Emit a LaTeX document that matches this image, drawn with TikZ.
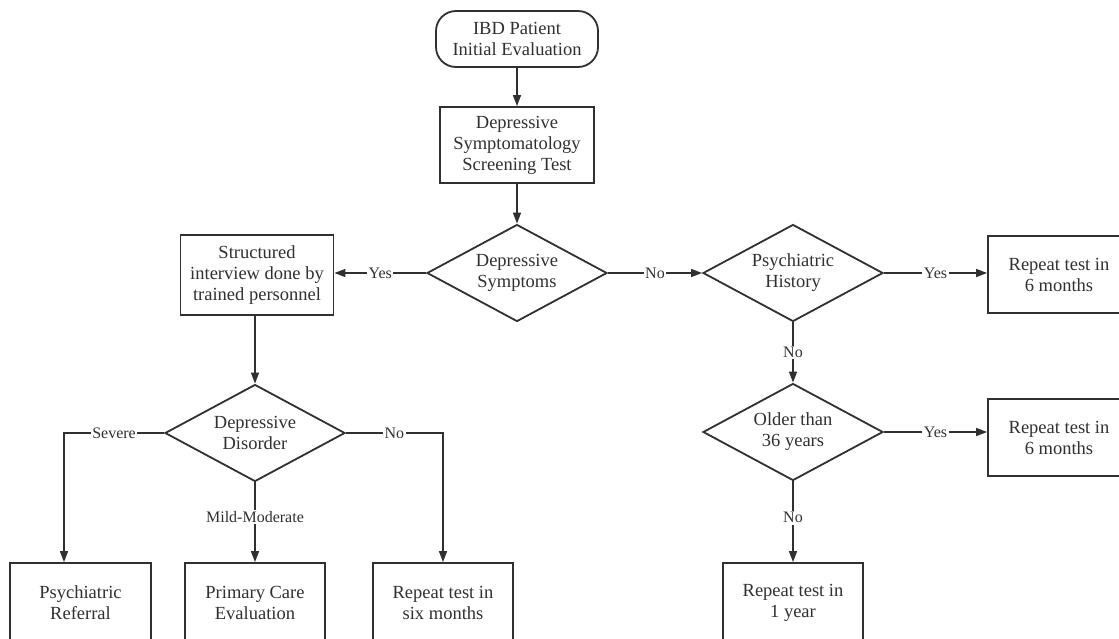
\documentclass[tikz,border=0pt]{standalone}
\usepackage{fontspec}
\setmainfont{Liberation Serif}
\usetikzlibrary{shapes.geometric,arrows.meta}
\definecolor{ink}{HTML}{303030}
\newcommand{\nodefont}{\fontsize{18.5}{21}\selectfont}
\newcommand{\labfont}{\fontsize{16}{18}\selectfont}
\begin{document}
\begin{tikzpicture}[x=1pt,y=-1pt,
  proc/.style={draw=ink, text=ink, line width=1.8pt, fill=white, align=center, inner sep=0pt, font=\nodefont},
  decision/.style={diamond, aspect=1.85, draw=ink, text=ink, line width=1.8pt, fill=white, align=center, inner sep=0pt, minimum width=180pt, minimum height=97pt, font=\nodefont},
  lab/.style={fill=white, text=ink, inner sep=1.5pt, font=\labfont},
  arr/.style={draw=ink, line width=1.5pt, -{Triangle[length=11pt,width=8pt]}}
]
\useasboundingbox (0,0) rectangle (1119,638);
\clip (0,0) rectangle (1119,638);

\node[proc, rounded corners=20pt, minimum width=162pt, minimum height=56pt] (start) at (517,39) {IBD Patient\\Initial Evaluation};
\node[proc, minimum width=154pt, minimum height=76pt] (screen) at (517,145) {Depressive\\Symptomatology\\Screening Test};
\node[decision] (dsym) at (517,273) {Depressive\\Symptoms};
\node[proc, minimum width=153pt, minimum height=80pt] (struct) at (257,275) {Structured\\interview done by\\trained personnel};
\node[decision] (psych) at (793,273) {Psychiatric\\History};
\node[proc, minimum width=142pt, minimum height=77pt] (rep1) at (1059,274.5) {Repeat test in\\6 months};
\node[decision] (older) at (793,432) {Older than\\36 years};
\node[proc, minimum width=142pt, minimum height=77pt] (rep2) at (1059,437.5) {Repeat test in\\6 months};
\node[proc, minimum width=140pt, minimum height=80pt] (rep3) at (793,603) {Repeat test in\\1 year};
\node[decision] (dd) at (255,433) {Depressive\\Disorder};
\node[proc, minimum width=141pt, minimum height=80pt] (pr) at (80.5,603) {Psychiatric\\Referral};
\node[proc, minimum width=140pt, minimum height=80pt] (pc) at (255,603) {Primary Care\\Evaluation};
\node[proc, minimum width=140pt, minimum height=80pt] (rs) at (443,603) {Repeat test in\\six months};

\coordinate (sv) at (64,433);

\draw[arr] (start.south -| screen.north) -- (screen.north);
\draw[arr] (screen.south) -- (dsym.north);
\draw[arr] (dsym.west) -- node[lab]{Yes} (dsym.west -| struct.east);
\draw[arr] (dsym.east) -- node[lab]{No} (psych.west);
\draw[arr] (psych.east) -- node[lab]{Yes} (psych.east -| rep1.west);
\draw[arr] (psych.south) -- node[lab]{No} (older.north);
\draw[arr] (older.east) -- node[lab]{Yes} (older.east -| rep2.west);
\draw[arr] (older.south) -- node[lab, pos=0.45]{No} (rep3.north);
\draw[arr] (struct.south -| dd.north) -- (dd.north);
\draw[arr] (dd.west) -- node[lab]{Severe} (sv) -- (sv |- pr.north);
\draw[arr] (dd.east) -- node[lab]{No} (dd.east -| rs.north) -- (rs.north);
\draw[arr] (dd.south) -- node[lab, pos=0.43]{Mild-Moderate} (pc.north);
\end{tikzpicture}
\end{document}
